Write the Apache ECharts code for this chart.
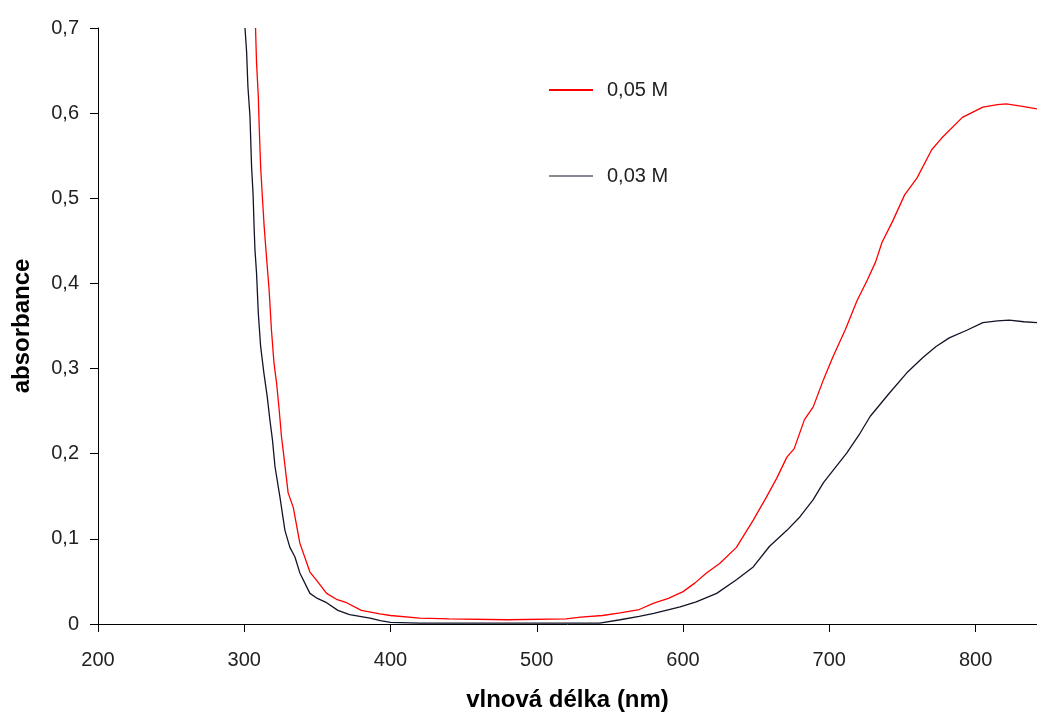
<!DOCTYPE html>
<html>
<head>
<meta charset="utf-8">
<script src="https://cdn.jsdelivr.net/npm/echarts@6/dist/echarts.min.js"></script>
<style>html,body{margin:0;padding:0;background:#fff}#c{width:1037px;height:717px}</style>
</head>
<body>
<div id="c"></div>
<script>
// 0,05 M series (red)
const redX = [307.7,308.4,309.6,310.3,311.2,312.5,313.6,315.2,317,318.6,320.3,322.1,323.9,325.5,326.6,330,333.5,338,344.9,350,356.3,363,370,380,392.7,400,420,440,480,520,530,545,557,570,580,590,600,608,616,625,636.5,648,657,664,671,676,683,689,696,702.5,711,719,726,731.6,736,743,751.5,760,770,777,791,805,815,821,832,842];
const redY = [0.70,0.659,0.62,0.58,0.537,0.498,0.467,0.431,0.392,0.345,0.307,0.283,0.251,0.219,0.204,0.154,0.137,0.095,0.061,0.050,0.036,0.029,0.025,0.016,0.012,0.010,0.007,0.006,0.005,0.006,0.008,0.010,0.013,0.017,0.0245,0.030,0.038,0.048,0.060,0.071,0.090,0.122,0.149,0.171,0.196,0.206,0.24,0.255,0.287,0.314,0.346,0.38,0.404,0.425,0.448,0.472,0.504,0.524,0.557,0.571,0.595,0.607,0.610,0.611,0.608,0.605];
// 0,03 M series (black)
const blackX = [300.5,301.6,302.5,303.9,305,306,306.8,307.3,308.4,309.6,311.2,313.4,315.7,317.5,319.3,321,324.4,327.8,331.2,334.6,338,344.9,350,356.3,364,372,386,393,400,420,450,500,543,557,570,580,598,609,623,636.5,648,659,671,680,689,696,712,721,728,741,753,764,773,782,794,805,815,823,833,842];
const blackY = [0.70,0.672,0.631,0.596,0.537,0.506,0.463,0.44,0.412,0.365,0.326,0.295,0.267,0.24,0.216,0.185,0.149,0.11,0.09,0.079,0.06,0.036,0.030,0.025,0.016,0.011,0.007,0.004,0.002,0.001,0.001,0.001,0.001,0.005,0.009,0.0125,0.020,0.026,0.036,0.052,0.067,0.091,0.11,0.126,0.146,0.166,0.201,0.224,0.244,0.271,0.295,0.313,0.326,0.336,0.345,0.354,0.356,0.357,0.355,0.354];
const xTicks = [200,300,400,500,600,700,800];
const yTicks = [0,0.1,0.2,0.3,0.4,0.5,0.6,0.7];
const seriesNames = ['0,05 M','0,03 M'];

const zip = (xs, ys) => xs.map((x, i) => [x, ys[i]]);
const font = 'Liberation Sans, Arial, sans-serif';

const chart = echarts.init(document.getElementById('c'));
chart.setOption({
  animation: false,
  backgroundColor: '#fff',
  grid: { left: 98, top: 28, right: 0, bottom: 93, containLabel: false },
  legend: [
    { data: [seriesNames[0]], left: 544, top: 75, icon: 'rect', itemWidth: 44, itemHeight: 2,
      textStyle: { fontFamily: font, fontSize: 20, color: '#222', padding: [0,0,0,9] } },
    { data: [seriesNames[1]], left: 544, top: 161, icon: 'rect', itemWidth: 44, itemHeight: 1,
      textStyle: { fontFamily: font, fontSize: 20, color: '#222', padding: [0,0,0,9] } }
  ],
  xAxis: {
    type: 'value', min: 200, max: 842, interval: 100,
    name: 'vlnová délka (nm)', nameLocation: 'middle', nameGap: 64,
    nameTextStyle: { fontFamily: font, fontSize: 24, fontWeight: 'bold', color: '#000' },
    axisLine: { show: true, lineStyle: { color: '#000', width: 1 } },
    axisTick: { show: true, length: 8, customValues: xTicks, lineStyle: { color: '#000' } },
    axisLabel: { customValues: xTicks, margin: 26, fontFamily: font, fontSize: 20, color: '#222' },
    splitLine: { show: false }
  },
  yAxis: {
    type: 'value', min: 0, max: 0.7, interval: 0.1,
    name: 'absorbance', nameLocation: 'middle', nameGap: 64,
    nameTextStyle: { fontFamily: font, fontSize: 24, fontWeight: 'bold', color: '#000' },
    axisLine: { show: true, lineStyle: { color: '#000', width: 1 } },
    axisTick: { show: true, length: 8, customValues: yTicks, lineStyle: { color: '#000' } },
    axisLabel: { customValues: yTicks, margin: 19, fontFamily: font, fontSize: 20, color: '#222',
      formatter: v => String(Math.round(v * 10) / 10).replace('.', ',') },
    splitLine: { show: false }
  },
  series: [
    { name: seriesNames[0], type: 'line', data: zip(redX, redY), showSymbol: false, symbol: 'none',
      lineStyle: { color: '#ff0000', width: 1.3 }, itemStyle: { color: '#ff0000' } },
    { name: seriesNames[1], type: 'line', data: zip(blackX, blackY), showSymbol: false, symbol: 'none',
      lineStyle: { color: '#141428', width: 1.3 }, itemStyle: { color: '#141428' } }
  ]
});
</script>
</body>
</html>
